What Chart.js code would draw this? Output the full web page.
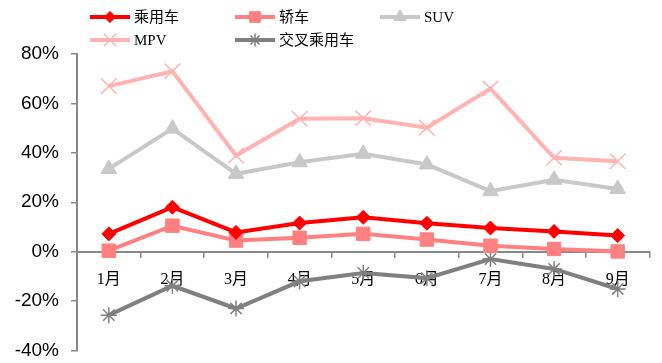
<!DOCTYPE html>
<html>
<head>
<meta charset="utf-8">
<script src="https://cdn.jsdelivr.net/npm/chart.js@4/dist/chart.umd.min.js"></script>
<style>
  body { margin: 0; background: #fff; }
  #wrap { width: 662px; height: 363px; }
</style>
</head>
<body>
<div id="wrap"><canvas id="growth" width="662" height="363"></canvas></div>
<script>
// monthly YoY growth, %
const months = ['1月','2月','3月','4月','5月','6月','7月','8月','9月'];
const passenger = [7.2, 18.0, 7.8, 11.6, 13.9, 11.5, 9.6, 8.2, 6.5];
const sedan = [0.4, 10.5, 4.5, 5.6, 7.2, 4.9, 2.4, 1.1, 0.1];
const suv = [33.5, 49.8, 31.5, 36.2, 39.6, 35.3, 24.5, 29.1, 25.4];
const mpv = [67.0, 73.0, 38.9, 53.8, 54.0, 50.2, 66.0, 38.0, 36.6];
const crossover = [-25.7, -13.8, -23.0, -12.0, -8.6, -10.7, -3.0, -7.0, -15.1];
const yTicks = [-40, -20, 0, 20, 40, 60, 80];

const serif = '"Liberation Serif", "Noto Sans CJK SC", serif';

function series(label, data, color, style, radius, bw) {
  return {
    label, data,
    borderColor: color, backgroundColor: color,
    pointBackgroundColor: color, pointBorderColor: color,
    borderWidth: 4, pointStyle: style, pointRadius: radius,
    pointBorderWidth: bw, tension: 0
  };
}

// legend drawn by hand: two rows, three fixed columns
const legendPos = [[90, 17], [235, 17], [380, 17], [90, 40], [235, 40]];
const legendPlugin = {
  id: 'gridLegend',
  afterDraw(chart) {
    const ctx = chart.ctx;
    chart.data.datasets.forEach((ds, i) => {
      const [x, y] = legendPos[i];
      ctx.save();
      ctx.strokeStyle = ds.borderColor;
      ctx.lineWidth = 4;
      ctx.beginPath();
      ctx.moveTo(x, y);
      ctx.lineTo(x + 40, y);
      ctx.stroke();
      ctx.fillStyle = ds.backgroundColor;
      ctx.lineWidth = ds.pointBorderWidth;
      Chart.helpers.drawPoint(ctx, {
        pointStyle: ds.pointStyle,
        radius: ds.pointRadius * 0.8,
        borderWidth: ds.pointBorderWidth,
        rotation: 0
      }, x + 20, y);
      ctx.fillStyle = '#000';
      ctx.font = '15px ' + serif;
      ctx.textBaseline = 'middle';
      ctx.fillText(ds.label, x + 44, y + 1);
      ctx.restore();
    });
  }
};

new Chart(document.getElementById('growth'), {
  type: 'line',
  data: {
    labels: months,
    datasets: [
      series('乘用车', passenger, '#ff0000', 'rectRot', 7, 1),
      series('轿车', sedan, '#ff8080', 'rect', 9.5, 1),
      series('SUV', suv, '#c8c8c8', 'triangle', 9, 1),
      series('MPV', mpv, '#ffb3b3', 'crossRot', 11, 1.5),
      series('交叉乘用车', crossover, '#808080', 'star', 8, 1.5)
    ]
  },
  options: {
    responsive: false,
    animation: false,
    layout: { padding: { left: 0, top: 54, right: 11, bottom: 11 } },
    plugins: { legend: { display: false }, tooltip: { enabled: false } },
    scales: {
      x: {
        position: { y: 0 },
        offset: true,
        afterFit(scale) { scale.height = 0; scale.paddingBottom = 0; scale.paddingTop = 0; },
        grid: { offset: true, drawOnChartArea: false, drawTicks: true, tickLength: 5, color: '#898989', lineWidth: 1.5 },
        border: { color: '#898989', width: 2 },
        ticks: { color: '#000', font: { family: serif, size: 16 }, padding: 14, maxRotation: 0 }
      },
      y: {
        min: -40, max: 80,
        afterFit(scale) { scale.width = 77; scale.paddingBottom = 0; scale.paddingTop = 0; },
        afterBuildTicks(scale) { scale.ticks = yTicks.map(v => ({ value: v })); },
        grid: { drawOnChartArea: false, drawTicks: true, tickLength: 6, color: '#898989', lineWidth: 1.5 },
        border: { color: '#898989', width: 2 },
        ticks: {
          color: '#000', padding: 12,
          font: { family: '"Liberation Sans", Arial, sans-serif', size: 19 },
          callback: v => v + '%'
        }
      }
    }
  },
  plugins: [legendPlugin]
});
</script>
</body>
</html>
